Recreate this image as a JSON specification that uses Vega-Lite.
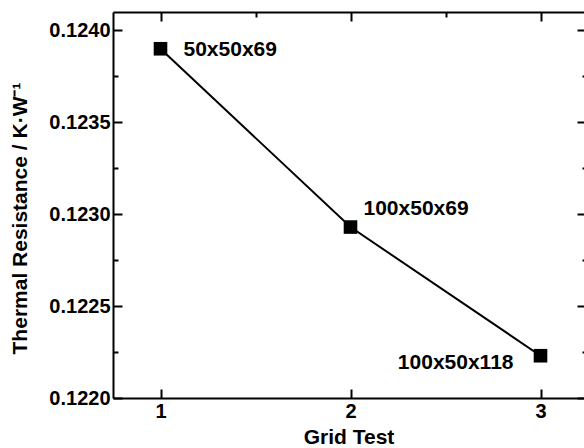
{
  "$schema": "https://vega.github.io/schema/vega-lite/v6.json",
  "autosize": "none",
  "width": 471,
  "height": 386,
  "padding": {"left": 113, "top": 12, "right": 0, "bottom": 50},
  "background": "white",
  "view": {"stroke": null},
  "config": {
    "font": "Liberation Sans",
    "axis": {
      "domainColor": "black",
      "domainWidth": 2,
      "tickColor": "black",
      "tickWidth": 2,
      "labelColor": "black",
      "labelFont": "Liberation Sans",
      "labelFontWeight": "bold",
      "labelFontSize": 20,
      "titleFont": "Liberation Sans",
      "titleFontWeight": "bold",
      "titleFontSize": 21,
      "titleColor": "black",
      "grid": false
    }
  },
  "data": {
    "values": [
      {"grid": 1, "r": 0.12390, "label": "50x50x69"},
      {"grid": 2, "r": 0.12293, "label": "100x50x69"},
      {"grid": 3, "r": 0.12223, "label": "100x50x118"}
    ]
  },
  "resolve": {"axis": {"x": "independent", "y": "independent"}},
  "layer": [
    {
      "mark": {"type": "line", "color": "black", "strokeWidth": 2},
      "encoding": {
        "x": {
          "field": "grid", "type": "quantitative",
          "scale": {"domain": [0.75, 3.2289], "nice": false, "zero": false},
          "axis": {
            "orient": "bottom",
            "title": "Grid Test",
            "values": [1, 1.5, 2, 2.5, 3],
            "format": "d",
            "labelExpr": "datum.value == round(datum.value) ? datum.label : ''",
            "tickSize": {"condition": {"test": "datum.value == round(datum.value)", "value": -9}, "value": -5},
            "labelPadding": 12,
            "titlePadding": 5
          }
        },
        "y": {
          "field": "r", "type": "quantitative",
          "scale": {"domain": [0.1220, 0.1241], "nice": false, "zero": false},
          "axis": {
            "orient": "left",
            "title": "Thermal Resistance / K·W⁻¹",
            "values": [0.122, 0.12225, 0.1225, 0.12275, 0.123, 0.12325, 0.1235, 0.12375, 0.124],
            "format": ".4f",
            "labelExpr": "round(datum.value*20000) % 10 == 0 ? datum.label : ''",
            "tickSize": {"condition": {"test": "round(datum.value*20000) % 10 == 0", "value": -9}, "value": -5},
            "labelPadding": 12,
            "titleX": -93,
            "titleY": 206,
            "titleAlign": "center",
            "titleBaseline": "middle",
            "titleAngle": 270
          }
        }
      }
    },
    {
      "mark": {"type": "point", "shape": "square", "filled": true, "color": "black", "opacity": 1, "size": 185},
      "encoding": {
        "x": {
          "field": "grid", "type": "quantitative",
          "axis": {
            "orient": "top",
            "title": null,
            "labels": false,
            "values": [1, 1.5, 2, 2.5, 3],
            "tickSize": {"condition": {"test": "datum.value == round(datum.value)", "value": -9}, "value": -5}
          }
        },
        "y": {
          "field": "r", "type": "quantitative",
          "axis": {
            "orient": "right",
            "title": null,
            "labels": false,
            "domain": false,
            "values": [0.122, 0.12225, 0.1225, 0.12275, 0.123, 0.12325, 0.1235, 0.12375, 0.124],
            "tickSize": {"condition": {"test": "round(datum.value*20000) % 10 == 0", "value": -7}, "value": -2}
          }
        }
      }
    },
    {
      "transform": [{"filter": "datum.grid == 1"}],
      "mark": {"type": "text", "align": "left", "baseline": "middle", "dx": 23, "dy": 1.5, "fontSize": 21, "fontWeight": "bold", "color": "black", "font": "Liberation Sans"},
      "encoding": {
        "x": {"field": "grid", "type": "quantitative", "axis": null},
        "y": {"field": "r", "type": "quantitative", "axis": null},
        "text": {"field": "label"}
      }
    },
    {
      "transform": [{"filter": "datum.grid == 2"}],
      "mark": {"type": "text", "align": "left", "baseline": "middle", "dx": 13, "dy": -18, "fontSize": 21, "fontWeight": "bold", "color": "black", "font": "Liberation Sans"},
      "encoding": {
        "x": {"field": "grid", "type": "quantitative", "axis": null},
        "y": {"field": "r", "type": "quantitative", "axis": null},
        "text": {"field": "label"}
      }
    },
    {
      "transform": [{"filter": "datum.grid == 3"}],
      "mark": {"type": "text", "align": "right", "baseline": "middle", "dx": -27, "dy": 7.5, "fontSize": 21, "fontWeight": "bold", "color": "black", "font": "Liberation Sans"},
      "encoding": {
        "x": {"field": "grid", "type": "quantitative", "axis": null},
        "y": {"field": "r", "type": "quantitative", "axis": null},
        "text": {"field": "label"}
      }
    }
  ]
}
